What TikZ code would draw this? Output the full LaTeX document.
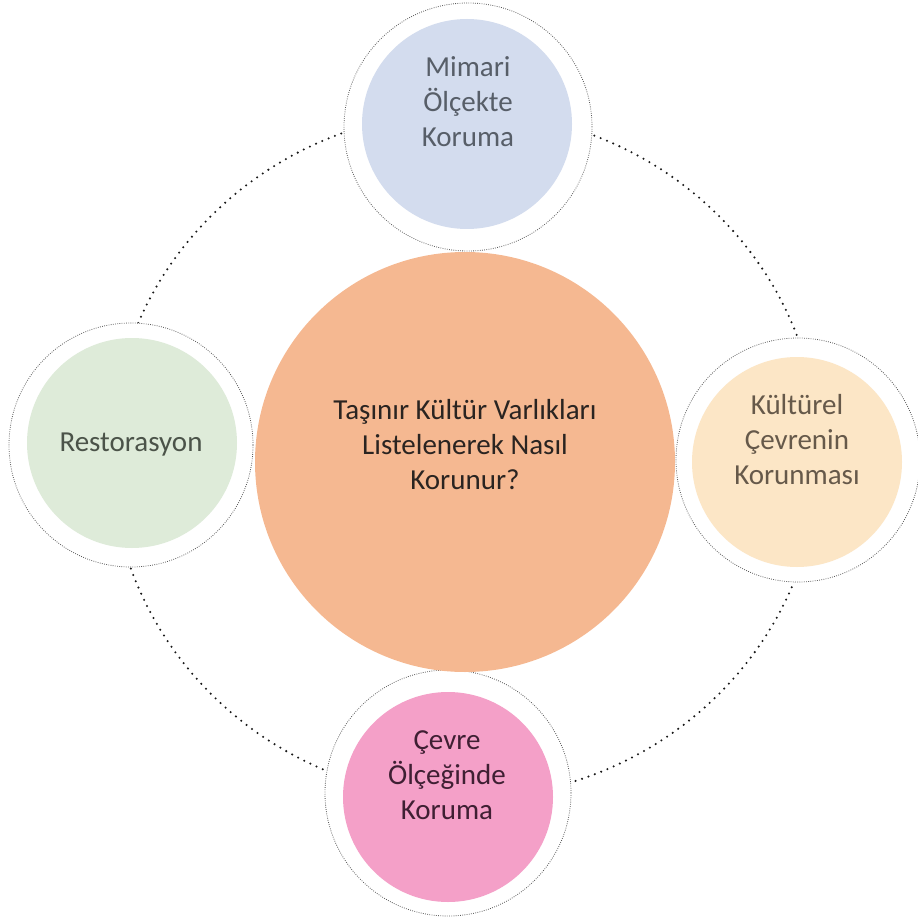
\documentclass[tikz,border=0pt]{standalone}
\usepackage{fontspec}
\setmainfont{Carlito}
\definecolor{cTop}{HTML}{D3DCEE}
\definecolor{cLeft}{HTML}{DEEBD9}
\definecolor{cRight}{HTML}{FCE6C6}
\definecolor{cBottom}{HTML}{F4A0C8}
\definecolor{cCenter}{HTML}{F5B891}
\definecolor{tTop}{HTML}{575E68}
\definecolor{tLeft}{HTML}{4B5349}
\definecolor{tRight}{HTML}{66594A}
\definecolor{tBottom}{HTML}{3F1F33}
\definecolor{tCenter}{HTML}{2A2421}
\begin{document}
\begin{tikzpicture}[x=1pt,y=-1pt]
\tikzset{
 ring/.style={draw=black!90, line width=2.3pt, dash pattern=on 0pt off 6.8pt, line cap=round},
 halo/.style={circle, draw=black!65, fill=white, line width=0.8pt, dash pattern=on 0.8pt off 1.4pt, minimum size=#1, inner sep=0pt},
 disc/.style={circle, minimum size=210pt, inner sep=0pt},
 lbl/.style={font=\fontsize{29}{35}\selectfont, align=center, inner sep=0pt}
}
\useasboundingbox (0,0) rectangle (918,917);
\draw[ring] (465,455) ellipse [x radius=354, y radius=343];
% top
\node[halo=248pt] (topH) at (468,127) {};
\node[disc, fill=cTop] (topD) at (467,124) {};
\node[lbl, text=tTop] (topT) at (468,102) {Mimari\\Ölçekte\\Koruma};
% left
\node[halo=244pt] (leftH) at (131,445) {};
\node[disc, fill=cLeft] (leftD) at (132,443) {};
\node[lbl, text=tLeft] (leftT) at (131,445) {Restorasyon};
% right
\node[halo=244pt] (rightH) at (798,460) {};
\node[disc, fill=cRight] (rightD) at (797,462) {};
\node[lbl, text=tRight] (rightT) at (797,440) {Kültürel\\Çevrenin\\Korunması};
% bottom
\node[halo=246pt] (botH) at (448,793) {};
\node[disc, fill=cBottom] (botD) at (448,797) {};
\node[lbl, text=tBottom] (botT) at (447,775) {Çevre\\Ölçeğinde\\Koruma};
% center
\node[circle, minimum size=420pt, inner sep=0pt, fill=cCenter] (cen) at (465,462) {};
\node[lbl, text=tCenter] (cenT) at (465,445) {Taşınır Kültür Varlıkları\\Listelenerek Nasıl\\Korunur?};
\end{tikzpicture}
\end{document}
